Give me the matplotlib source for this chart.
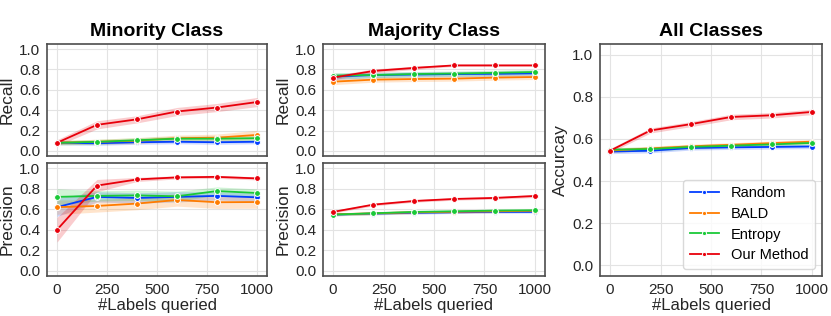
import matplotlib
matplotlib.use("Agg")
import matplotlib.pyplot as plt
import numpy as np

plt.rcParams['font.family'] = ['Liberation Sans', 'DejaVu Sans']

x_labels = [0, 200, 400, 600, 800, 1000]
methods = ["Random", "BALD", "Entropy", "Our Method"]
colors = ["#023eff", "#ff7c00", "#1ac938", "#e8000b"]

# Minority recall
min_recall = {
    "Random":     [0.08, 0.075, 0.085, 0.09, 0.085, 0.09],
    "BALD":       [0.08, 0.09, 0.10, 0.125, 0.13, 0.157],
    "Entropy":    [0.08, 0.089, 0.105, 0.12, 0.12, 0.125],
    "Our Method": [0.08, 0.256, 0.31, 0.387, 0.426, 0.48],
}
min_recall_err = {
    "Random":     [0.02, 0.02, 0.02, 0.02, 0.02, 0.02],
    "BALD":       [0.02, 0.025, 0.03, 0.03, 0.035, 0.045],
    "Entropy":    [0.02, 0.025, 0.025, 0.025, 0.025, 0.025],
    "Our Method": [0.03, 0.04, 0.035, 0.04, 0.04, 0.045],
}
# Minority precision
min_prec = {
    "Random":     [0.62, 0.72, 0.71, 0.72, 0.73, 0.716],
    "BALD":       [0.62, 0.632, 0.655, 0.69, 0.668, 0.67],
    "Entropy":    [0.72, 0.73, 0.735, 0.726, 0.777, 0.758],
    "Our Method": [0.40, 0.83, 0.89, 0.91, 0.915, 0.90],
}
min_prec_err = {
    "Random":     [0.09, 0.05, 0.05, 0.05, 0.04, 0.04],
    "BALD":       [0.07, 0.06, 0.06, 0.06, 0.06, 0.06],
    "Entropy":    [0.08, 0.05, 0.05, 0.05, 0.04, 0.04],
    "Our Method": [0.12, 0.06, 0.02, 0.015, 0.015, 0.015],
}
# Majority recall
maj_recall = {
    "Random":     [0.73, 0.745, 0.75, 0.755, 0.757, 0.762],
    "BALD":       [0.68, 0.70, 0.706, 0.71, 0.72, 0.726],
    "Entropy":    [0.74, 0.745, 0.755, 0.76, 0.767, 0.775],
    "Our Method": [0.72, 0.785, 0.815, 0.84, 0.84, 0.84],
}
maj_recall_err = {
    "Random":     [0.03, 0.025, 0.025, 0.025, 0.025, 0.025],
    "BALD":       [0.03, 0.025, 0.025, 0.025, 0.025, 0.025],
    "Entropy":    [0.03, 0.025, 0.025, 0.025, 0.025, 0.025],
    "Our Method": [0.02, 0.02, 0.015, 0.01, 0.01, 0.01],
}
# Majority precision
maj_prec = {
    "Random":     [0.548, 0.558, 0.565, 0.57, 0.574, 0.574],
    "BALD":       [0.55, 0.56, 0.57, 0.575, 0.58, 0.585],
    "Entropy":    [0.548, 0.561, 0.574, 0.58, 0.587, 0.59],
    "Our Method": [0.574, 0.645, 0.68, 0.70, 0.71, 0.729],
}
maj_prec_err = {
    "Random":     [0.012, 0.012, 0.012, 0.012, 0.012, 0.012],
    "BALD":       [0.015, 0.015, 0.015, 0.015, 0.015, 0.015],
    "Entropy":    [0.012, 0.012, 0.012, 0.012, 0.012, 0.012],
    "Our Method": [0.012, 0.012, 0.012, 0.012, 0.012, 0.015],
}
# All classes accuracy
all_acc = {
    "Random":     [0.54, 0.544, 0.557, 0.56, 0.562, 0.564],
    "BALD":       [0.545, 0.555, 0.565, 0.572, 0.58, 0.587],
    "Entropy":    [0.549, 0.552, 0.562, 0.568, 0.574, 0.581],
    "Our Method": [0.544, 0.64, 0.67, 0.704, 0.712, 0.728],
}
all_acc_err = {
    "Random":     [0.01, 0.01, 0.01, 0.01, 0.01, 0.01],
    "BALD":       [0.01, 0.01, 0.01, 0.01, 0.01, 0.01],
    "Entropy":    [0.01, 0.01, 0.01, 0.01, 0.01, 0.01],
    "Our Method": [0.01, 0.012, 0.012, 0.013, 0.013, 0.013],
}

W, H = 831, 316
fig = plt.figure(figsize=(W / 100, H / 100), dpi=100)
fig.patch.set_facecolor("white")


def px_axes(x0, x1, y0, y1):
    return fig.add_axes([x0 / W, 1 - y1 / H, (x1 - x0) / W, (y1 - y0) / H])


def style(ax, ylabel, show_x):
    ax.set_xlim(-50, 1050)
    ax.set_ylim(-0.05, 1.05)
    ax.set_xticks([0, 250, 500, 750, 1000])
    ax.set_yticks([0.0, 0.2, 0.4, 0.6, 0.8, 1.0])
    ax.grid(True, color="#e3e3e3", linewidth=0.8)
    ax.set_axisbelow(True)
    for s in ax.spines.values():
        s.set_color("#4d4d4d")
        s.set_linewidth(1.2)
    ax.tick_params(length=0, labelsize=11, pad=5, colors="#262626")
    ax.set_ylabel(ylabel, fontsize=12.5, color="#262626", labelpad=3)
    if show_x:
        ax.set_xlabel("#Labels queried", fontsize=12, color="#262626", labelpad=1)
    else:
        ax.tick_params(labelbottom=False)


def draw(ax, data, err):
    x = np.array(x_labels)
    for m, c in zip(methods, colors):
        y = np.array(data[m])
        e = np.array(err[m])
        ax.fill_between(x, y - e, y + e, color=c, alpha=0.2, linewidth=0)
        ax.plot(x, y, color=c, linewidth=1.3, marker="o", markersize=4.2,
                markeredgecolor="white", markeredgewidth=0.7, label=m)


ax1 = px_axes(47, 267, 44, 156)
draw(ax1, min_recall, min_recall_err)
style(ax1, "Recall", False)
ax1.set_title("Minority Class", fontsize=14, fontweight="bold", pad=6)

ax2 = px_axes(47, 267, 163, 276)
draw(ax2, min_prec, min_prec_err)
style(ax2, "Precision", True)

ax3 = px_axes(323, 545, 44, 156)
draw(ax3, maj_recall, maj_recall_err)
style(ax3, "Recall", False)
ax3.set_title("Majority Class", fontsize=14, fontweight="bold", pad=6)

ax4 = px_axes(323, 545, 163, 276)
draw(ax4, maj_prec, maj_prec_err)
style(ax4, "Precision", True)

ax5 = px_axes(600, 822, 44, 276)
draw(ax5, all_acc, all_acc_err)
style(ax5, "Accurcay", True)
ax5.set_title("All Classes", fontsize=14, fontweight="bold", pad=6)
leg = ax5.legend(loc="lower right", fontsize=10.5, frameon=True, fancybox=True,
                 handlelength=2.0, borderpad=0.45, labelspacing=0.45)
leg.get_frame().set_edgecolor("#d0d0d0")
for lh in leg.get_lines():
    lh.set_markersize(3)

fig.savefig("out.png", dpi=100)
